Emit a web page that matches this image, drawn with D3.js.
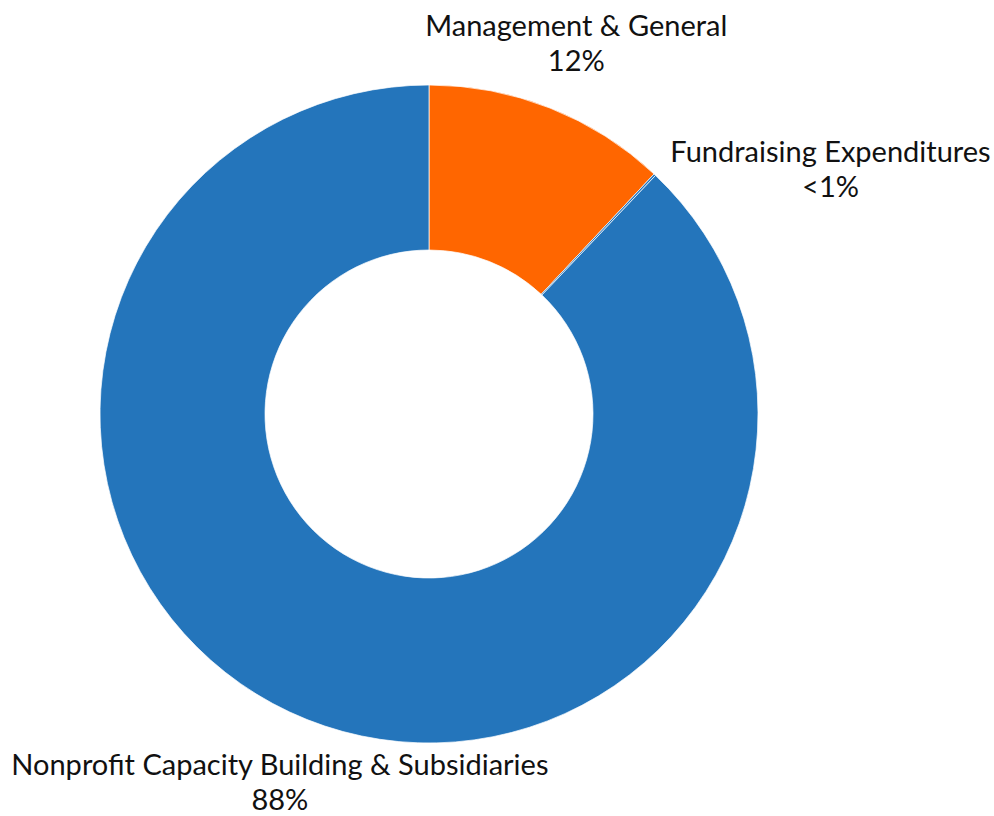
<!DOCTYPE html>
<html>
<head>
<meta charset="utf-8">
<script src="https://cdn.jsdelivr.net/npm/d3@7"></script>
<style>
  body { margin: 0; background: #fff; }
  #chart { width: 994px; height: 816px; }
  .lbl { font-family: Lato, "Noto Sans", sans-serif; font-size: 29px; fill: #111; }
</style>
</head>
<body>
<div id="chart"></div>
<script>
var width = 994;
var height = 816;

var categories = ["Management & General", "Fundraising Expenditures", "Nonprofit Capacity Building & Subsidiaries"];
var values = [12, 0.1, 88];
var valueLabels = ["12%", "<1%", "88%"];
var colors = ["#ff6600", "#2475bb", "#2475bb"];

var svg = d3.select("#chart")
  .append("svg")
  .attr("width", width)
  .attr("height", height);

var cx = 429, cy = 414;
var outer = 329, inner = 164;

var data = categories.map(function(c, i) {
  return {name: c, value: values[i], label: valueLabels[i], color: colors[i]};
});

var pie = d3.pie()
  .sort(null)
  .value(function(d) { return d.value; });

var arc = d3.arc()
  .innerRadius(inner)
  .outerRadius(outer);

var g = svg.append("g")
  .attr("transform", `translate(${cx},${cy})`);

var arcs = pie(data);

g.selectAll("path")
  .data(arcs)
  .enter()
  .append("path")
    .attr("d", arc)
    .attr("fill", function(d) { return d.data.color; })
    .attr("stroke", "#fff")
    .attr("stroke-width", 0.7);

// labels sit outside the ring, tiny slice gets nudged clear of its neighbour
var labelRadius = [395, 400, 405];
var nudge = [[2, 1], [127, 51], [1, -3]];

var labels = g.selectAll("text.lbl")
  .data(arcs)
  .enter()
  .append("text")
    .attr("class", "lbl")
    .attr("text-anchor", "middle")
    .attr("transform", function(d, i) {
      var a = (d.startAngle + d.endAngle) / 2;
      var x = Math.sin(a) * labelRadius[i] + nudge[i][0];
      var y = -Math.cos(a) * labelRadius[i] + nudge[i][1];
      return `translate(${x},${y})`;
    });

labels.append("tspan")
  .attr("x", 0)
  .attr("dy", "-12px")
  .text(function(d) { return d.data.name; });

labels.append("tspan")
  .attr("x", 0)
  .attr("dy", "35px")
  .text(function(d) { return d.data.label; });
</script>
</body>
</html>
